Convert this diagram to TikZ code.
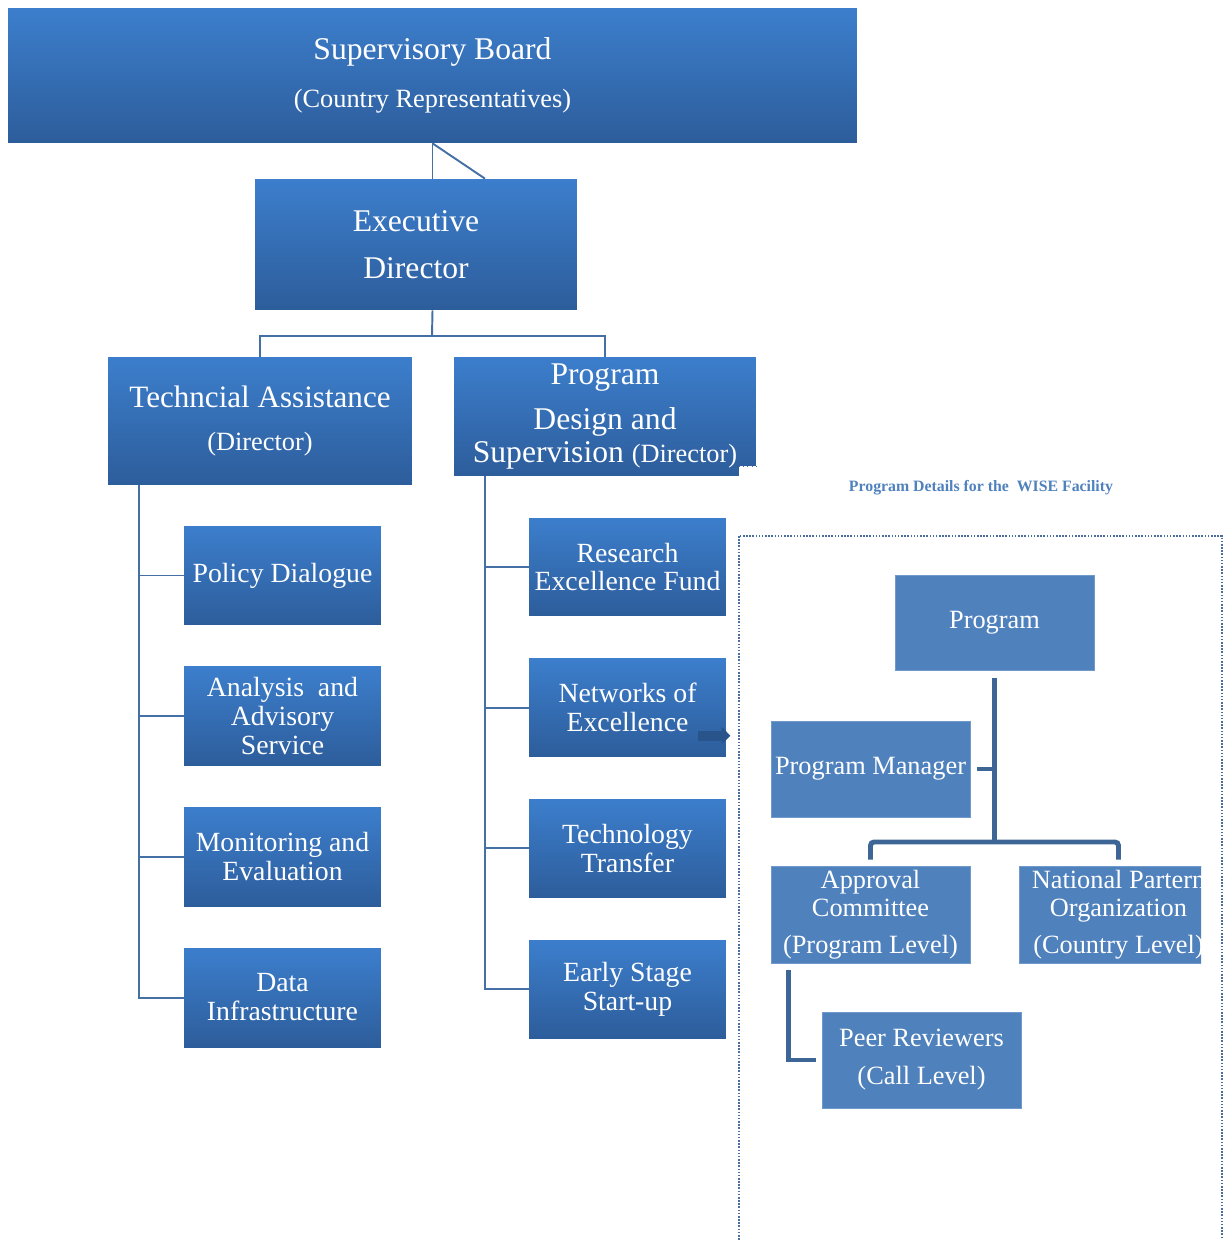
\documentclass[tikz,border=0pt]{standalone}
\usepackage{fontspec}
\setmainfont{Liberation Serif}
\usepackage{xcolor}
\definecolor{orgtop}{HTML}{3C7ECC}
\definecolor{orgbot}{HTML}{2D5D9B}
\definecolor{orglink}{HTML}{4470A6}
\definecolor{wisefill}{HTML}{4F81BD}
\definecolor{wiseedge}{HTML}{7099CC}
\definecolor{wiselink}{HTML}{3D6596}
\definecolor{wisedot}{HTML}{4B6E9E}
\usetikzlibrary{positioning, arrows.meta}

\begin{document}
\begin{tikzpicture}[
  x=0.02cm, y=-0.02cm,
  unit/.style={top color=orgtop, bottom color=orgbot, text=white, align=center, inner sep=1pt},
  sub/.style={unit, minimum width=3.94cm, minimum height=1.98cm,
              font=\fontsize{15.8}{16.5}\selectfont},
  wbox/.style={fill=wisefill, draw=wiseedge, line width=0.5pt, text=white, align=center,
               inner sep=1pt, minimum width=3.98cm, minimum height=1.92cm,
               font=\fontsize{15}{16}\selectfont},
  link/.style={orglink, line width=1.1pt},
  wlink/.style={wiselink, line width=2.8pt}
]
  \useasboundingbox (0,0) rectangle (1229,1240);

  % board and directors
  \node[unit, minimum width=16.98cm, minimum height=2.7cm, font=\fontsize{18}{27.3}\selectfont]
        (sb) at (432.5,75.5) {Supervisory Board\\{\fontsize{15}{27.3}\selectfont(Country Representatives)}};
  \node[unit, minimum width=6.44cm, minimum height=2.62cm, font=\fontsize{18}{26.7}\selectfont]
        (ed) at (416,244.5) {Executive\\Director};
  \node[unit, minimum width=6.08cm, minimum height=2.56cm, font=\fontsize{17.7}{25}\selectfont]
        (ta) at (260,421) {Techncial Assistance\\{\fontsize{15}{25}\selectfont(Director)}};
  \node[unit, minimum width=6.04cm, minimum height=2.38cm, font=\fontsize{18}{19.3}\selectfont]
        (pds) at (605,416.5) {Program\\[6.3pt]Design and\\Supervision {\fontsize{15}{19.3}\selectfont(Director)}};

  % technical assistance units
  \node[sub] (pol) at (282.5,575.5) {Policy Dialogue};
  \node[sub, below=0.82cm of pol] (ana) {Analysis~~and\\Advisory\\Service};
  \node[sub, below=0.82cm of ana] (mon) {Monitoring and\\Evaluation};
  \node[sub, below=0.82cm of mon] (dat) {Data\\Infrastructure};

  % program design units
  \node[sub, minimum height=1.96cm] (res) at (627.5,567) {Research\\Excellence Fund};
  \node[sub, minimum height=1.96cm, below=0.84cm of res] (net) {Networks of\\Excellence};
  \node[sub, minimum height=1.96cm, below=0.84cm of net] (tec) {Technology\\Transfer};
  \node[sub, minimum height=1.96cm, below=0.84cm of tec] (esu) {Early Stage\\Start-up};

  \draw[link] (sb.south) -- (sb.south |- ed.north);
  \draw[link] (sb.south) -- ([xshift=1.38cm]ed.north);
  \coordinate (bus) at (432,336);
  \draw[link] (sb.south |- ed.south) -- (bus);
  \draw[link] (ta.north) |- (bus) -| (pds.north);

  \coordinate (tspine) at ([xshift=0.62cm]ta.south west);
  \draw[link] (tspine) |- (dat.west);
  \foreach \n in {pol,ana,mon} \draw[link] (\n.west) -- (\n.west -| tspine);

  \coordinate (pspine) at ([xshift=0.62cm]pds.south west);
  \draw[link] (pspine) |- (esu.west);
  \foreach \n in {res,net,tec} \draw[link] (\n.west) -- (\n.west -| pspine);

  \draw[orgbot!90!black, line width=5.5pt, -{Triangle[length=5pt,width=10pt]}]
        ([xshift=-0.56cm,yshift=-0.56cm]net.east) -- ([xshift=0.08cm,yshift=-0.56cm]net.east);

  % corner of the program box
  \fill[white] (739,466) rectangle (757,478);
  \draw[wisedot, dotted] (739,466) -- (757,466);

  % WISE facility panel
  \node[font=\bfseries\fontsize{9}{11}\selectfont, text=wisefill] (cap) at (981,488)
        {Program Details for the\ \ WISE Facility};
  \draw[wisedot, line width=0.9pt, dash pattern=on 0.9pt off 0.9pt] (739,536) rectangle (1222,1248);

  \node[wbox, minimum height=1.9cm] (prog) at (994.5,622.5) {Program};
  \node[wbox] (pm) at (870.5,769) {Program Manager};
  \node[wbox, minimum height=1.94cm] (ac) at (870.5,914.5) {Approval\\Committee\\[5pt](Program Level)};
  \begin{scope}
    \clip (1019,860) rectangle (1201,970);
    \node[wbox, minimum height=1.94cm] (npo) at (1118.5,914.5)
          {National Partern\\Organization\\[5pt](Country Level)};
  \end{scope}
  \node[wbox] (pr) at (921.5,1060) {Peer Reviewers\\[5.6pt](Call Level)};

  \coordinate (hub) at (prog.south |- 0,842);
  \draw[wlink] ([yshift=-0.16cm]prog.south) -- (hub);
  \draw[wlink, rounded corners=2pt] ([yshift=0.12cm]ac.north) |- (hub) -| ([yshift=0.12cm]npo.north);
  \draw[wlink] ([xshift=0.14cm]pm.east) -- (pm.east -| hub);
  \draw[wlink] ([xshift=0.36cm,yshift=-0.14cm]ac.south west) |- ([xshift=-0.12cm]pr.west);
\end{tikzpicture}
\end{document}
